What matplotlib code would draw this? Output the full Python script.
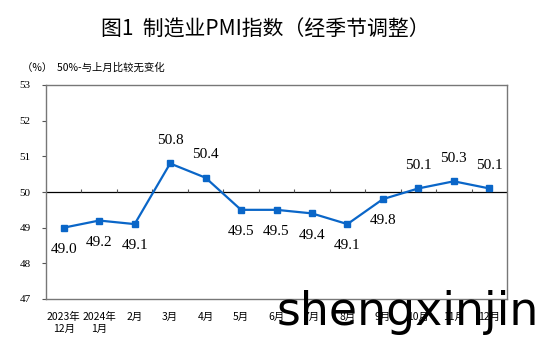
import numpy as np
import matplotlib.pyplot as plt

# 制造业PMI (经季节调整)
months = ['2023年\n12月', '2024年\n1月', '2月', '3月', '4月', '5月', '6月',
          '7月', '8月', '9月', '10月', '11月', '12月']
pmi = [49.0, 49.2, 49.1, 50.8, 50.4, 49.5, 49.5, 49.4, 49.1, 49.8, 50.1, 50.3, 50.1]
label_above = [False, False, False, True, True, False, False, False, False, False,
               True, True, True]
yticks = [47, 48, 49, 50, 51, 52, 53]

cjk = ['Noto Sans CJK SC', 'DejaVu Sans']
serif = ['Liberation Serif', 'DejaVu Serif']

fig = plt.figure(figsize=(5.42, 3.57), dpi=100)
ax = fig.add_axes([46 / 542, 1 - 299 / 357, 461 / 542, 214 / 357])

x = np.arange(len(pmi))
ax.plot(x, pmi, color='#0a66c8', lw=1.6, marker='s', ms=4.5, zorder=3)

for xi, v, up in zip(x, pmi, label_above):
    ax.annotate(f'{v:.1f}', (xi, v), xytext=(0, 12 if up else -11),
                textcoords='offset points', ha='center',
                va='bottom' if up else 'top', fontsize=11, family=serif)

# 50 reference line with small ticks at the month boundaries
ax.axhline(50, color='black', lw=0.9, zorder=2)
ax.vlines(x[:-1] + 0.5, 50, 50.08, color='#555555', lw=0.8, zorder=2)

ax.set_xlim(-0.5, len(pmi) - 0.5)
ax.set_ylim(47, 53)
ax.set_yticks(yticks)
ax.set_yticklabels([str(t) for t in yticks], family=serif, fontsize=8)
ax.set_xticks(x)
ax.set_xticklabels(months, family=cjk, fontsize=7.5, linespacing=1.3)
ax.tick_params(axis='x', length=0, pad=9)
ax.tick_params(axis='y', length=3, width=0.8, color='#555555', pad=8)
for s in ax.spines.values():
    s.set_color('#777777')
    s.set_linewidth(1.0)

fig.text(0.49, 1 - 30 / 357, '图1  制造业PMI指数（经季节调整）', ha='center',
         va='center', fontsize=15, family=cjk)
fig.text(22 / 542, 1 - 68 / 357, '（%）  50%-与上月比较无变化', ha='left',
         va='center', fontsize=7.5, family=cjk)

# watermark
fig.text(277 / 542, 1 - 325 / 357, 'shengxinjin', ha='left', va='baseline',
         fontsize=33, family='DejaVu Sans', color='black', zorder=10)

fig.savefig('out.png', dpi=100)
